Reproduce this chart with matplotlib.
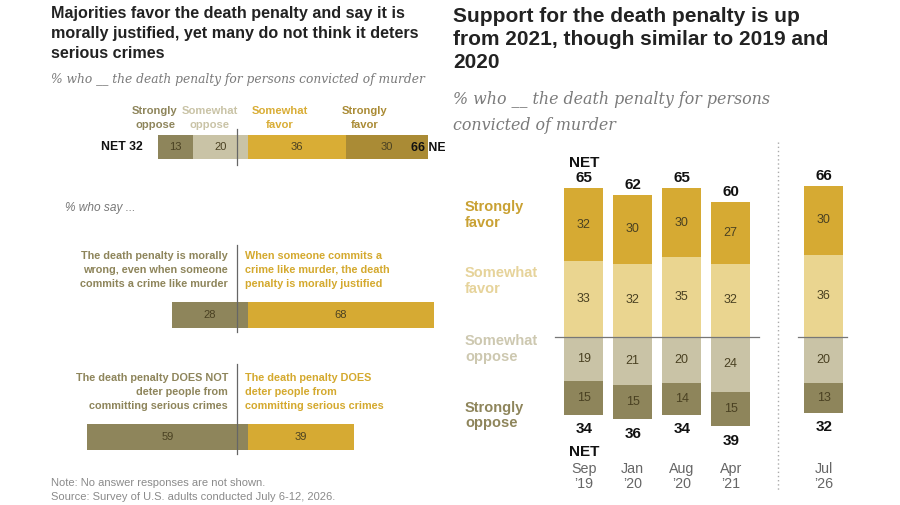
import numpy as np
import matplotlib.pyplot as plt

plt.rcParams['font.family'] = ['Liberation Sans', 'DejaVu Sans']

# ---- data: left panel ----
top_labels = ['Strongly\noppose', 'Somewhat\noppose', 'Somewhat\nfavor', 'Strongly\nfavor']
top_vals = [13, 20, 36, 30]
top_net_oppose = 32
top_net_favor = 66

moral_vals = [28, 68]
moral_labels = ['The death penalty is morally\nwrong, even when someone\ncommits a crime like murder',
                'When someone commits a\ncrime like murder, the death\npenalty is morally justified']
deter_vals = [59, 39]
deter_labels = ['The death penalty DOES NOT\ndeter people from\ncommitting serious crimes',
                'The death penalty DOES\ndeter people from\ncommitting serious crimes']

# ---- data: right panel ----
dates = ['Sep\n\u201919', 'Jan\n\u201920', 'Aug\n\u201920', 'Apr\n\u201921', 'Jul\n\u201926']
strongly_favor = [32, 30, 30, 27, 30]
somewhat_favor = [33, 32, 35, 32, 36]
somewhat_oppose = [19, 21, 20, 24, 20]
strongly_oppose = [15, 15, 14, 15, 13]
net_favor = [65, 62, 65, 60, 66]
net_oppose = [34, 36, 34, 39, 32]

# colors
c_sopp = '#8e855b'
c_wopp = '#c9c3a6'
c_wfav = '#ead590'
c_sfav = '#d6aa33'
c_left_wfav = '#d9ad35'
c_left_sfav = '#aa8b35'
c_val = '#4a4122'

W, H = 900, 505
fig = plt.figure(figsize=(W / 100, H / 100), dpi=100)


def T(x, y, s, **kw):
    # text placed in pixel coordinates of the figure
    return fig.text(x / W, 1 - y / H, s, **kw)


# ---------------- left panel ----------------
ax1 = fig.add_axes([40 / W, 0, 405 / W, 1])
ax1.set_xlim((40 - 248) / 2.73, (445 - 248) / 2.73)
ax1.set_ylim(H, 0)
ax1.axis('off')

T(51, 6, 'Majorities favor the death penalty and say it is\nmorally justified, yet many do not think it deters\nserious crimes',
  fontsize=11.6, fontweight='bold', color='#222222', va='top', linespacing=1.42)
T(51, 80, '% who __ the death penalty for persons convicted of murder',
  fontsize=8.85, fontstyle='italic', family='DejaVu Serif', color='#7a7a7a', va='center')

# top stacked bar
left = -(top_vals[0] + top_vals[1])
top_cols = [c_sopp, c_wopp, c_left_wfav, c_left_sfav]
starts = left + np.concatenate([[0], np.cumsum(top_vals)[:-1]])
ax1.barh(147, top_vals, left=starts, height=24, color=top_cols)
for s0, v in zip(starts, top_vals):
    ax1.text(s0 + v / 2, 147, str(v), ha='center', va='center', fontsize=8, color=c_val)
ax1.plot([-4, -4], [129, 165], color='#666666', lw=0.9)
ax1.text(left - 5.5, 147, f'NET {top_net_oppose}', ha='right', va='center',
         fontsize=8.8, fontweight='bold', color='#111111')
ax1.text(top_net_favor - 6.3, 148, f'{top_net_favor} NET', ha='left', va='center',
         fontsize=8.8, fontweight='bold', color='#111111', clip_on=True)

lab_x = [155, 210, 280, 365]
lab_c = [c_sopp, c_wopp, c_left_wfav, c_left_sfav]
for x, s, c in zip(lab_x, top_labels, lab_c):
    T(x, 118, s, ha='center', va='center', fontsize=8.1, fontweight='bold', color=c, linespacing=1.5)

T(65, 208, '% who say ...', fontsize=8.6, fontstyle='italic', color='#777777', va='center')

# moral / deter bars
for yc, vals, labs, ylab, ytop in [(315, moral_vals, moral_labels, 270, 245),
                                  (437, deter_vals, deter_labels, 392, 364)]:
    ax1.barh(yc, -vals[0], height=26, color=c_sopp)
    ax1.barh(yc, vals[1], height=26, color=c_sfav)
    ax1.text(-vals[0] / 2, yc, str(vals[0]), ha='center', va='center', fontsize=8, color=c_val)
    ax1.text(vals[1] / 2, yc, str(vals[1]), ha='center', va='center', fontsize=8, color=c_val)
    ax1.plot([-4, -4], [ytop, yc + 17], color='#666666', lw=0.9)
    T(228, ylab, labs[0], ha='right', va='center', fontsize=7.8, fontweight='bold',
      color=c_sopp, linespacing=1.52)
    T(245, ylab, labs[1], ha='left', va='center', fontsize=7.8, fontweight='bold',
      color='#d4a92e', linespacing=1.52)

T(51, 483, 'Note: No answer responses are not shown.', fontsize=8, color='#8a8a8a', va='center')
T(51, 497, 'Source: Survey of U.S. adults conducted July 6-12, 2026.', fontsize=8, color='#8a8a8a', va='center')

# ---------------- right panel ----------------
ax2 = fig.add_axes([450 / W, 0, 450 / W, 1])
ax2.set_xlim((450 - 583.7) / 49, (900 - 583.7) / 49)
ax2.set_ylim((337 - H) / 2.29, 337 / 2.29)
ax2.axis('off')

T(453, 7, 'Support for the death penalty is up\nfrom 2021, though similar to 2019 and\n2020',
  fontsize=15, fontweight='bold', color='#222222', va='top', linespacing=1.28)
T(453, 112.5, '% who __ the death penalty for persons\nconvicted of murder',
  fontsize=11.4, fontstyle='italic', family='DejaVu Serif', color='#7a7a7a', va='center',
  linespacing=1.65)

xpos = np.array([0, 1, 2, 3, 4.9])
sf = np.array(strongly_favor)
wf = np.array(somewhat_favor)
wo = np.array(somewhat_oppose)
so = np.array(strongly_oppose)
bw = 0.8
ax2.bar(xpos, wf, width=bw, color=c_wfav)
ax2.bar(xpos, sf, bottom=wf, width=bw, color=c_sfav)
ax2.bar(xpos, -wo, width=bw, color=c_wopp)
ax2.bar(xpos, -so, bottom=-wo, width=bw, color=c_sopp)

for i, x in enumerate(xpos):
    ax2.text(x, wf[i] / 2, str(wf[i]), ha='center', va='center', fontsize=9, color=c_val)
    ax2.text(x, wf[i] + sf[i] / 2, str(sf[i]), ha='center', va='center', fontsize=9, color=c_val)
    ax2.text(x, -wo[i] / 2, str(wo[i]), ha='center', va='center', fontsize=9, color=c_val)
    ax2.text(x, -wo[i] - so[i] / 2, str(so[i]), ha='center', va='center', fontsize=9, color=c_val)
    ax2.text(x, wf[i] + sf[i] + 4.5, str(net_favor[i]), ha='center', va='center',
             fontsize=11, fontweight='bold', color='#111111')
    ax2.text(x, -wo[i] - so[i] - 6.2, str(net_oppose[i]), ha='center', va='center',
             fontsize=11, fontweight='bold', color='#111111')
    ax2.text(x, -61, dates[i], ha='center', va='center', fontsize=10.3, color='#666666',
             linespacing=1.05)

ax2.text(xpos[0], wf[0] + sf[0] + 11, 'NET', ha='center', va='center',
         fontsize=11, fontweight='bold', color='#111111')
ax2.text(xpos[0], -wo[0] - so[0] - 16.2, 'NET', ha='center', va='center',
         fontsize=11, fontweight='bold', color='#111111')

ax2.plot([-0.59, 3.58], [0, 0], color='#777777', lw=0.9)
ax2.plot([4.37, 5.37], [0, 0], color='#777777', lw=0.9)
ax2.plot([3.96, 3.96], [85, -67.7], color='#aaaaaa', lw=1, ls=(0, (1, 2)))

for y, s, c in [(215, 'Strongly\nfavor', '#c9a133'),
                (281, 'Somewhat\nfavor', '#e6d39a'),
                (349, 'Somewhat\noppose', '#cdc8b0'),
                (415.5, 'Strongly\noppose', '#8e855b')]:
    T(465, y, s, ha='left', va='center', fontsize=10.5, fontweight='bold', color=c, linespacing=1.12)

fig.savefig('out.png', dpi=100)
